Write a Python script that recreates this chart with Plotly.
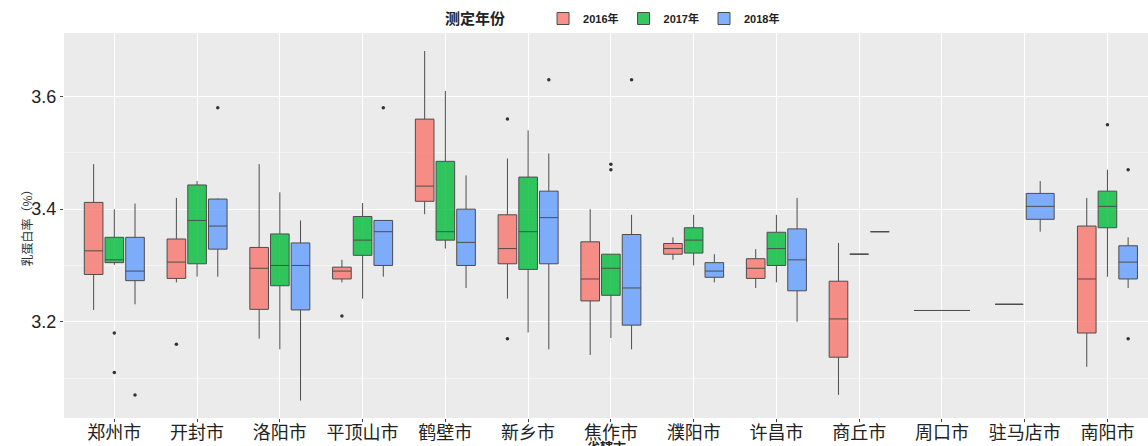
import plotly.graph_objects as go

categories = ["郑州市", "开封市", "洛阳市", "平顶山市", "鹤壁市", "新乡市", "焦作市",
              "濮阳市", "许昌市", "商丘市", "周口市", "驻马店市", "南阳市"]
years = ["2016年", "2017年", "2018年"]

# 2016
q1_2016 = [3.284, 3.277, 3.222, 3.276, 3.414, 3.303, 3.237, 3.320, 3.277, 3.137, 3.220, 3.231, 3.180]
med_2016 = [3.326, 3.306, 3.295, 3.290, 3.441, 3.330, 3.276, 3.330, 3.295, 3.205, 3.220, 3.231, 3.276]
q3_2016 = [3.412, 3.347, 3.332, 3.297, 3.560, 3.390, 3.342, 3.339, 3.312, 3.272, 3.220, 3.231, 3.370]
lo_2016 = [3.221, 3.270, 3.170, 3.270, 3.391, 3.241, 3.141, 3.310, 3.260, 3.070, 3.220, 3.231, 3.120]
hi_2016 = [3.480, 3.420, 3.480, 3.310, 3.681, 3.490, 3.400, 3.350, 3.329, 3.340, 3.220, 3.231, 3.420]
out_cat_2016 = ["开封市", "平顶山市", "新乡市", "新乡市"]
out_val_2016 = [3.16, 3.21, 3.56, 3.17]

# 2017
q1_2017 = [3.305, 3.303, 3.264, 3.318, 3.345, 3.293, 3.247, 3.322, 3.300, 3.320, None, None, 3.367]
med_2017 = [3.310, 3.380, 3.300, 3.345, 3.360, 3.360, 3.295, 3.345, 3.330, 3.320, None, None, 3.405]
q3_2017 = [3.350, 3.443, 3.356, 3.387, 3.485, 3.457, 3.320, 3.367, 3.359, 3.320, None, None, 3.432]
lo_2017 = [3.301, 3.280, 3.151, 3.241, 3.330, 3.181, 3.171, 3.300, 3.270, 3.320, None, None, 3.280]
hi_2017 = [3.400, 3.450, 3.430, 3.411, 3.610, 3.540, 3.320, 3.390, 3.390, 3.320, None, None, 3.470]
out_cat_2017 = ["郑州市", "郑州市", "焦作市", "焦作市", "南阳市"]
out_val_2017 = [3.18, 3.11, 3.48, 3.47, 3.55]

# 2018
q1_2018 = [3.273, 3.329, 3.221, 3.300, 3.300, 3.303, 3.194, 3.279, 3.255, 3.360, None, 3.382, 3.276]
med_2018 = [3.290, 3.370, 3.300, 3.360, 3.341, 3.385, 3.260, 3.290, 3.310, 3.360, None, 3.405, 3.306]
q3_2018 = [3.350, 3.418, 3.340, 3.380, 3.400, 3.432, 3.355, 3.305, 3.365, 3.360, None, 3.428, 3.335]
lo_2018 = [3.231, 3.280, 3.060, 3.280, 3.260, 3.151, 3.151, 3.270, 3.200, 3.360, None, 3.360, 3.260]
hi_2018 = [3.410, 3.419, 3.380, 3.380, 3.460, 3.499, 3.390, 3.320, 3.420, 3.360, None, 3.450, 3.350]
out_cat_2018 = ["郑州市", "开封市", "平顶山市", "新乡市", "焦作市", "南阳市", "南阳市"]
out_val_2018 = [3.07, 3.58, 3.58, 3.63, 3.63, 3.47, 3.17]

stats = {
    "2016年": (q1_2016, med_2016, q3_2016, lo_2016, hi_2016, out_cat_2016, out_val_2016),
    "2017年": (q1_2017, med_2017, q3_2017, lo_2017, hi_2017, out_cat_2017, out_val_2017),
    "2018年": (q1_2018, med_2018, q3_2018, lo_2018, hi_2018, out_cat_2018, out_val_2018),
}
colors = {"2016年": "rgba(248,118,109,0.8)", "2017年": "rgba(0,186,56,0.8)",
          "2018年": "rgba(97,156,255,0.8)"}

DODGE = 0.75

# dodge layout per category (like ggplot position_dodge)
def slot(ci, year):
    present = [y for y in years if stats[y][1][ci] is not None]
    n = len(present)
    k = present.index(year)
    off = -DODGE / 2 + (k + 0.5) * DODGE / n
    w = 0.9 * DODGE / n
    return ci + off, round(w, 4)

fig = go.Figure()
for y in years:
    q1, med, q3, lo, hi, oc, ov = stats[y]
    groups = {}
    for ci in range(len(categories)):
        if med[ci] is None:
            continue
        xpos, w = slot(ci, y)
        groups.setdefault(w, []).append((xpos, ci))
    first = True
    for w, items in groups.items():
        fig.add_trace(go.Box(
            x=[p for p, _ in items],
            q1=[q1[c] for _, c in items],
            median=[med[c] for _, c in items],
            q3=[q3[c] for _, c in items],
            lowerfence=[lo[c] for _, c in items],
            upperfence=[hi[c] for _, c in items],
            width=w, whiskerwidth=0, boxpoints=False,
            fillcolor=colors[y], line=dict(color="#4d4d4d", width=1),
            name=y, legendgroup=y, showlegend=first, hoverinfo="skip",
        ))
        first = False
    ox = [slot(categories.index(c), y)[0] for c in oc]
    fig.add_trace(go.Scatter(
        x=ox, y=ov, mode="markers", marker=dict(color="#333333", size=3.5),
        showlegend=False, legendgroup=y, hoverinfo="skip",
    ))

W, H = 1148, 446
ml, mr, mt, mb = 64, 0, 33, 28

fig.update_layout(
    width=W, height=H, boxmode="overlay",
    margin=dict(l=ml, r=mr, t=mt, b=mb, autoexpand=False),
    paper_bgcolor="white", plot_bgcolor="#EBEBEB",
    font=dict(family="Liberation Sans, Noto Sans CJK SC", color="#222222"),
    legend=dict(
        orientation="h", x=(443 - ml) / (W - ml - mr), xanchor="left",
        y=1 + (33 - 19) / (H - mt - mb), yanchor="middle",
        title=dict(text="<b>测定年份</b>\u2003\u2003", font=dict(size=15, family="Noto Sans CJK SC", color="#222")),
        font=dict(size=11, family="Liberation Sans, Noto Sans CJK SC", color="#222", weight="bold"),
        itemwidth=30, bgcolor="rgba(0,0,0,0)", tracegroupgap=0,
    ),
    xaxis=dict(
        range=[-0.608, 12.49], tickmode="array", automargin=False,
        tickvals=list(range(len(categories))), ticktext=categories,
        showgrid=True, gridcolor="white", gridwidth=1.1, zeroline=False,
        ticks="outside", ticklen=3, tickcolor="#444", tickwidth=1,
        tickfont=dict(size=18, family="Noto Sans CJK SC", color="#222"),
        ticklabelstandoff=-5, showline=False,
    ),
    yaxis=dict(
        range=[3.029, 3.713], tickmode="array", tickvals=[3.2, 3.4, 3.6],
        ticktext=["3.2", "3.4", "3.6"], automargin=False,
        showgrid=True, gridcolor="white", gridwidth=1.1, zeroline=False,
        minor=dict(tickmode="array", tickvals=[3.1, 3.3, 3.5], showgrid=True,
                   gridcolor="#F5F5F5", gridwidth=0.6, ticks=""),
        ticks="outside", ticklen=3, tickcolor="#444", tickwidth=1,
        tickfont=dict(size=18, family="Liberation Sans", color="#222"),
        ticklabelstandoff=0, showline=False,
    ),
    annotations=[
        dict(text="乳蛋白率（%）", xref="paper", yref="paper",
             x=(26 - ml) / (W - ml - mr), y=0.5, textangle=-90,
             showarrow=False, font=dict(size=12, family="Noto Sans CJK SC", color="#333"),
             xanchor="center", yanchor="middle"),
        dict(text="<b>省辖市</b>", xref="paper", yref="paper",
             x=0.5, y=-(435 - (H - mb)) / (H - mt - mb), xanchor="center", yanchor="top",
             showarrow=False, font=dict(size=13, family="Noto Sans CJK SC", color="#222")),
    ],
)

fig.write_html(
    "out.html",
    config={"displayModeBar": False},
    post_script="document.body.style.margin='0';document.body.style.overflow='hidden';",
)
